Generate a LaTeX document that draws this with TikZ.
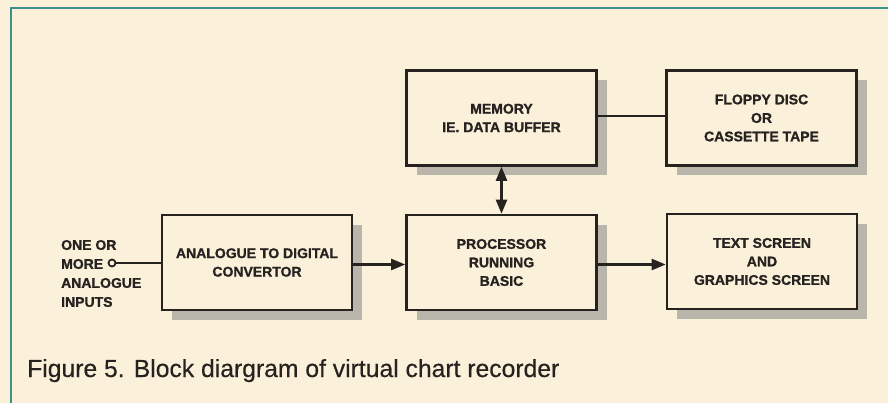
\documentclass[tikz,border=0pt]{standalone}
\usepackage{fontspec}
\setmainfont{Liberation Sans}
\newfontfamily\blkfont[FakeBold=1.2]{Liberation Sans Bold}
\newfontfamily\capfont[FakeBold=0.4]{Liberation Sans}
\usetikzlibrary{arrows.meta,shadows}
\definecolor{paper}{RGB}{251,241,218}
\definecolor{ink}{RGB}{38,34,32}
\definecolor{teal}{RGB}{62,142,138}
\definecolor{shade}{RGB}{185,181,170}
\tikzset{
  blk/.style={draw=ink, line width=2.6pt, fill=paper, minimum width=190pt, minimum height=95pt,
    align=center, inner sep=0pt, text=ink,
    font=\fontsize{14}{18.5}\selectfont\blkfont,
    drop shadow={shadow xshift=10pt, shadow yshift=-10pt, fill=shade, opacity=1}},
  conn/.style={draw=ink, line width=2.4pt},
  arr/.style={conn, -{Triangle[length=14pt,width=11pt]}},
  darr/.style={conn, {Triangle[length=14pt,width=11pt]}-{Triangle[length=14pt,width=11pt]}},
  lbl/.style={text=ink, font=\fontsize{14}{19}\selectfont\blkfont, align=left, inner sep=0pt}
}
\begin{document}
\begin{tikzpicture}[x=1pt,y=-1pt]
\fill[paper] (0,0) rectangle (888,403);
\useasboundingbox (0,0) rectangle (888,403);
\draw[teal, line width=2.2pt] (11,403) -- (11,8) -- (888,8);

\node[blk] (mem) at (501.5,118) {MEMORY\\IE. DATA BUFFER};
\node[blk] (flop) at (761.5,118) {FLOPPY DISC\\OR\\CASSETTE TAPE};
\node[blk] (adc) at (257,262.5) {ANALOGUE TO DIGITAL\\CONVERTOR};
\node[blk] (proc) at (501.5,262.5) {PROCESSOR\\RUNNING\\BASIC};
\node[blk] (scr) at (762,261.5) {TEXT SCREEN\\AND\\GRAPHICS SCREEN};

\node[lbl, anchor=west] (inp) at (61,273.5) {ONE OR\\MORE\\ANALOGUE\\INPUTS};
\node[circle, draw=ink, line width=1.8pt, fill=paper, minimum size=7pt, inner sep=0pt] (term) at (112,263) {};

\draw[conn] (term.east) -- (term.east -| adc.west);
\draw[arr] ([yshift=-2pt]adc.east) -- ([yshift=-2pt]adc.east -| proc.west);
\draw[arr] ([yshift=-2pt]proc.east) -- ([yshift=-2pt]proc.east -| scr.west);
\draw[darr] (mem.south) -- (proc.north);
\draw[conn] ([yshift=2pt]mem.east) -- ([yshift=2pt]mem.east -| flop.west);

\node[anchor=base west, inner sep=0pt, text=ink, font=\fontsize{24.7}{28}\selectfont\capfont] (cap) at (27,377) {Figure 5. Block diargram of virtual chart recorder};
\end{tikzpicture}
\end{document}
